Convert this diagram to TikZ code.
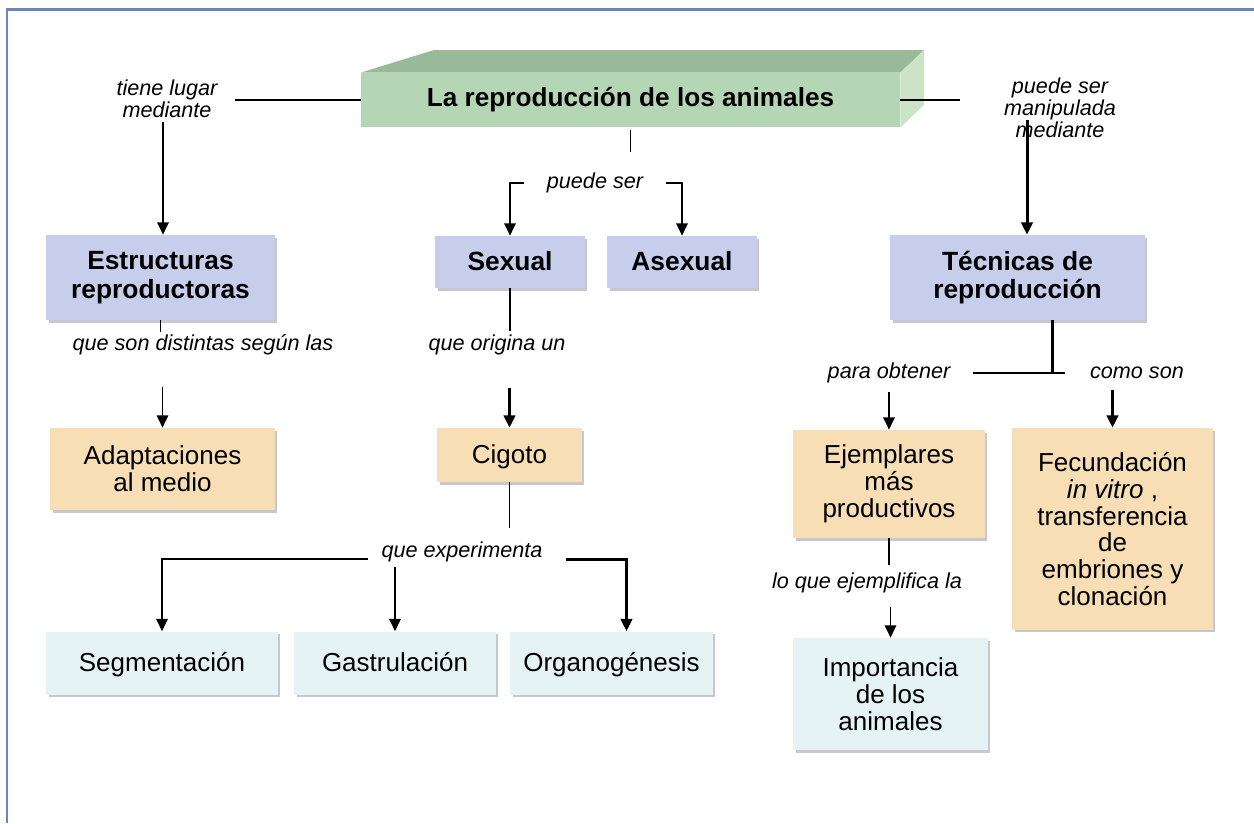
\documentclass[tikz,border=0pt]{standalone}
\usepackage{fontspec}
\setmainfont{Liberation Sans}
\usetikzlibrary{arrows.meta,shadows}
\definecolor{framecol}{RGB}{106,134,186}
\definecolor{bluefill}{RGB}{198,206,236}
\definecolor{tanfill}{RGB}{247,222,180}
\definecolor{icefill}{RGB}{229,243,245}
\definecolor{shadowcol}{RGB}{140,146,160}
\definecolor{titlefront}{RGB}{181,214,180}
\definecolor{titletop}{RGB}{152,186,150}
\definecolor{titleside}{RGB}{204,228,198}
\tikzset{box/.style={align=center, inner sep=2pt, drop shadow={shadow xshift=0.05cm, shadow yshift=-0.05cm, fill=shadowcol}},
  bluebox/.style={box, fill=bluefill, font=\fontsize{15}{16.4}\selectfont\bfseries},
  tanbox/.style={box, fill=tanfill, font=\fontsize{14.8}{15.3}\selectfont},
  icebox/.style={box, fill=icefill, font=\fontsize{14.8}{15.3}\selectfont},
  oneline/.style={text height=11pt, text depth=1.5pt},
  link/.style={font=\fontsize{12.3}{12.5}\selectfont\itshape, align=center, inner sep=2pt},
  conn/.style={black, line width=1.1pt},
  thickconn/.style={conn, line width=1.7pt},
  arr/.style={conn, -{Triangle[width=6.5pt,length=7pt]}},
  thickarr/.style={arr, line width=1.7pt}}

\begin{document}
\begin{tikzpicture}[x=0.02cm, y=-0.02cm]
  \useasboundingbox (0,0) rectangle (1254,823);
  \draw[framecol, line width=1.7pt] (7,823) -- (7,9) -- (1254,9);

  \node[fill=titlefront, minimum width=10.78cm, minimum height=1.08cm, inner sep=0pt,
        font=\fontsize{14.9}{16}\selectfont\bfseries] (title) at (630.5,100) {La reproducción de los animales};
  \fill[titletop] (title.north west) -- (434,50) -- (924,50) -- (title.north east) -- cycle;
  \fill[titleside] (title.north east) -- (924,50) -- (924,105) -- (title.south east) -- cycle;

  \node[bluebox, minimum width=4.58cm, minimum height=1.7cm] (estr) at (160.5,277.5) {Estructuras\\reproductoras};
  \node[bluebox, oneline, minimum width=3cm, minimum height=1.04cm] (sexual) at (510,262) {Sexual};
  \node[bluebox, oneline, minimum width=3cm, minimum height=1.04cm] (asexual) at (682,262) {Asexual};
  \node[bluebox, minimum width=5.1cm, minimum height=1.7cm] (tecnicas) at (1017.5,277.5) {Técnicas de\\reproducción};

  \node[tanbox, minimum width=4.5cm, minimum height=1.64cm] (adapt) at (162.5,469) {Adaptaciones\\al medio};
  \node[tanbox, oneline, minimum width=2.9cm, minimum height=1.08cm] (cigoto) at (509.5,455) {Cigoto};
  \node[tanbox, minimum width=3.84cm, minimum height=2.16cm] (ejempl) at (889,484) {Ejemplares\\más\\productivos};
  \node[tanbox, minimum width=4.02cm, minimum height=4.04cm] (fecund) at (1112.5,529) {Fecundación\\\textit{in vitro} ,\\transferencia\\de\\embriones y\\clonación};

  \node[icebox, oneline, minimum width=4.64cm, minimum height=1.26cm] (segm) at (162,663) {Segmentación};
  \node[icebox, oneline, minimum width=4.04cm, minimum height=1.26cm] (gastr) at (395,663) {Gastrulación};
  \node[icebox, oneline, minimum width=4.06cm, minimum height=1.26cm] (organ) at (611.5,663) {Organogénesis};
  \node[icebox, minimum width=3.9cm, minimum height=2.24cm] (import) at (890.5,694) {Importancia\\de los\\animales};

  \node[link] (tiene) at (167,99) {tiene lugar\\mediante};
  \node[link] (manip) at (1060,108) {puede ser\\manipulada\\mediante};
  \node[link] (puede) at (595,183) {puede ser};
  \node[link] (dist) at (203,345) {que son distintas según las};
  \node[link] (orig) at (497,345) {que origina un};
  \node[link] (obt) at (889,373) {para obtener};
  \node[link] (como) at (1137,373) {como son};
  \node[link] (exper) at (462,552) {que experimenta};
  \node[link] (ejem) at (867,583) {lo que ejemplifica la};

  \coordinate (cL) at (235,100);
  \coordinate (cR) at (960,100);
  \coordinate (cM) at (1027,120);
  \draw[conn] (title.west) -- (cL);
  \draw[conn] (title.east) -- (cR);
  \draw[arr] (tiene.south -| 163,0) -- (163,0 |- estr.north);
  \draw[thickarr] (cM) -- (cM |- tecnicas.north);

  \draw[conn] ([yshift=-0.06cm]title.south) -- ([yshift=-0.5cm]title.south);
  \draw[arr] ([xshift=-0.38cm]puede.west) -| (sexual.north);
  \draw[arr] ([xshift=0.38cm]puede.east) -| (asexual.north);

  \draw[conn] (estr.south) -- ++(0,12);
  \draw[arr] ([yshift=0.82cm]adapt.north) -- (adapt.north);
  \draw[conn] (sexual.south) -- ++(0,43);
  \draw[thickarr] ([yshift=0.8cm]cigoto.north) -- (cigoto.north);

  \coordinate (tj) at ([xshift=0.7cm]tecnicas.south |- obt);
  \draw[thickconn] ([xshift=0.7cm]tecnicas.south) -- (tj);
  \draw[conn] ([xshift=0.38cm]obt.east) -- ([xshift=0.24cm]tj);
  \draw[arr] ([yshift=0.76cm]ejempl.north) -- (ejempl.north);
  \draw[thickarr] ([yshift=0.76cm]fecund.north) -- (fecund.north);

  \draw[conn] (cigoto.south) -- ++(0,46);
  \draw[arr] ([xshift=-0.2cm,yshift=-0.14cm]exper.west) -| (segm.north);
  \draw[arr] ([yshift=1.28cm]gastr.north) -- (gastr.north);
  \draw[thickarr] ([xshift=0.4cm,yshift=-0.14cm]exper.east) -| ([xshift=0.3cm]organ.north);

  \draw[conn] (ejempl.south) -- ++(0,27);
  \draw[arr] ([yshift=0.62cm]import.north) -- (import.north);
\end{tikzpicture}
\end{document}
